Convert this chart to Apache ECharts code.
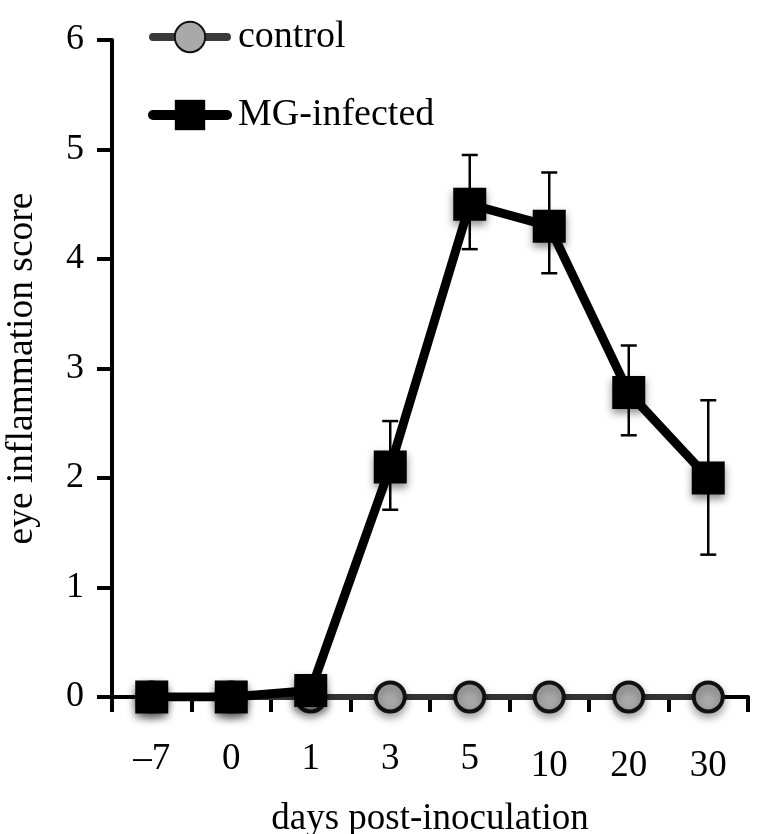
<!DOCTYPE html>
<html>
<head>
<meta charset="utf-8">
<script src="https://cdn.jsdelivr.net/npm/echarts@6/dist/echarts.min.js"></script>
<style>
html,body{margin:0;padding:0;background:#fff;}
#chart{width:765px;height:834px;}
</style>
</head>
<body>
<div id="chart"></div>
<script>
const categories = ['–7', '0', '1', '3', '5', '10', '20', '30'];
const controlValues = [0, 0, 0, 0, 0, 0, 0, 0];
const mgValues = [0, 0, 0.06, 2.1, 4.5, 4.3, 2.78, 2.0];
const mgErrUpper = [null, null, null, 2.52, 4.95, 4.79, 3.21, 2.71];
const mgErrLower = [null, null, null, 1.71, 4.09, 3.87, 2.39, 1.30];
const yTicks = [0, 1, 2, 3, 4, 5, 6];

const FONT = '"Liberation Serif", "DejaVu Serif", serif';

const errData = [];
categories.forEach(function (c, i) {
  if (mgErrUpper[i] != null) errData.push([i, mgErrLower[i], mgErrUpper[i]]);
});

const xData = categories.map(function (c, i) {
  return i >= 5 ? {value: c, textStyle: {padding: [7, 0, 0, 0]}} : {value: c};
});

const chart = echarts.init(document.getElementById('chart'), null, {renderer: 'canvas'});
chart.setOption({
  backgroundColor: '#ffffff',
  animation: false,
  grid: {left: 112, right: 17, top: 40, bottom: 137, containLabel: false, outerBoundsMode: 'none'},
  legend: {
    orient: 'vertical',
    left: 143,
    top: 13,
    itemWidth: 74,
    itemHeight: 38,
    itemGap: 40,
    textStyle: {fontFamily: FONT, fontSize: 38, color: '#000', padding: [0, 0, 0, 6]},
    data: [
      {name: 'control', lineStyle: {color: '#3a3a3a', width: 8, cap: 'round'}},
      {name: 'MG-infected', lineStyle: {color: '#000', width: 10, cap: 'round'}}
    ]
  },
  xAxis: {
    type: 'category',
    data: xData,
    boundaryGap: true,
    name: 'days post-inoculation',
    nameLocation: 'middle',
    nameGap: 104,
    nameTextStyle: {fontFamily: FONT, fontSize: 37, color: '#000'},
    axisLine: {lineStyle: {color: '#000', width: 4}},
    axisTick: {show: true, length: 15, lineStyle: {color: '#000', width: 4}},
    axisLabel: {
      interval: 0,
      margin: 44,
      color: '#000',
      fontFamily: FONT,
      fontSize: 37
    },
    splitLine: {show: false}
  },
  yAxis: {
    type: 'value',
    min: 0,
    max: 6,
    interval: 1,
    name: 'eye inflammation score',
    nameLocation: 'middle',
    nameGap: 71,
    nameRotate: 90,
    nameTextStyle: {fontFamily: FONT, fontSize: 37.5, color: '#000'},
    axisLine: {show: true, lineStyle: {color: '#000', width: 4}},
    axisTick: {show: true, length: 15, lineStyle: {color: '#000', width: 4}},
    axisLabel: {
      margin: 28,
      color: '#000',
      fontFamily: FONT,
      fontSize: 36,
      formatter: function (v) { return yTicks.indexOf(v) >= 0 ? String(v) : ''; }
    },
    splitLine: {show: false}
  },
  series: [
    {
      type: 'custom',
      name: 'err',
      z: 1,
      data: errData,
      renderItem: function (params, api) {
        const x = api.value(0);
        const lo = api.coord([x, api.value(1)]);
        const hi = api.coord([x, api.value(2)]);
        const hw = 8;
        const st = {stroke: '#000', lineWidth: 2.5};
        return {
          type: 'group',
          children: [
            {type: 'line', shape: {x1: lo[0], y1: lo[1], x2: hi[0], y2: hi[1]}, style: st},
            {type: 'line', shape: {x1: lo[0] - hw, y1: lo[1], x2: lo[0] + hw, y2: lo[1]}, style: st},
            {type: 'line', shape: {x1: hi[0] - hw, y1: hi[1], x2: hi[0] + hw, y2: hi[1]}, style: st}
          ]
        };
      }
    },
    {
      type: 'line',
      name: 'control',
      z: 2,
      data: controlValues,
      symbol: 'circle',
      symbolSize: 29,
      lineStyle: {color: '#333333', width: 6, cap: 'round'},
      itemStyle: {color: '#a9a9a9', borderColor: '#111', borderWidth: 4,
        shadowBlur: 8, shadowColor: 'rgba(0,0,0,0.35)', shadowOffsetY: 4},
      emphasis: {disabled: true}
    },
    {
      type: 'line',
      name: 'MG-infected',
      z: 3,
      data: mgValues,
      symbol: 'rect',
      symbolSize: 33,
      lineStyle: {color: '#000', width: 9, cap: 'round'},
      itemStyle: {color: '#000', borderColor: '#000', borderWidth: 0,
        shadowBlur: 8, shadowColor: 'rgba(0,0,0,0.45)', shadowOffsetY: 4},
      emphasis: {disabled: true}
    }
  ]
});
</script>
</body>
</html>
